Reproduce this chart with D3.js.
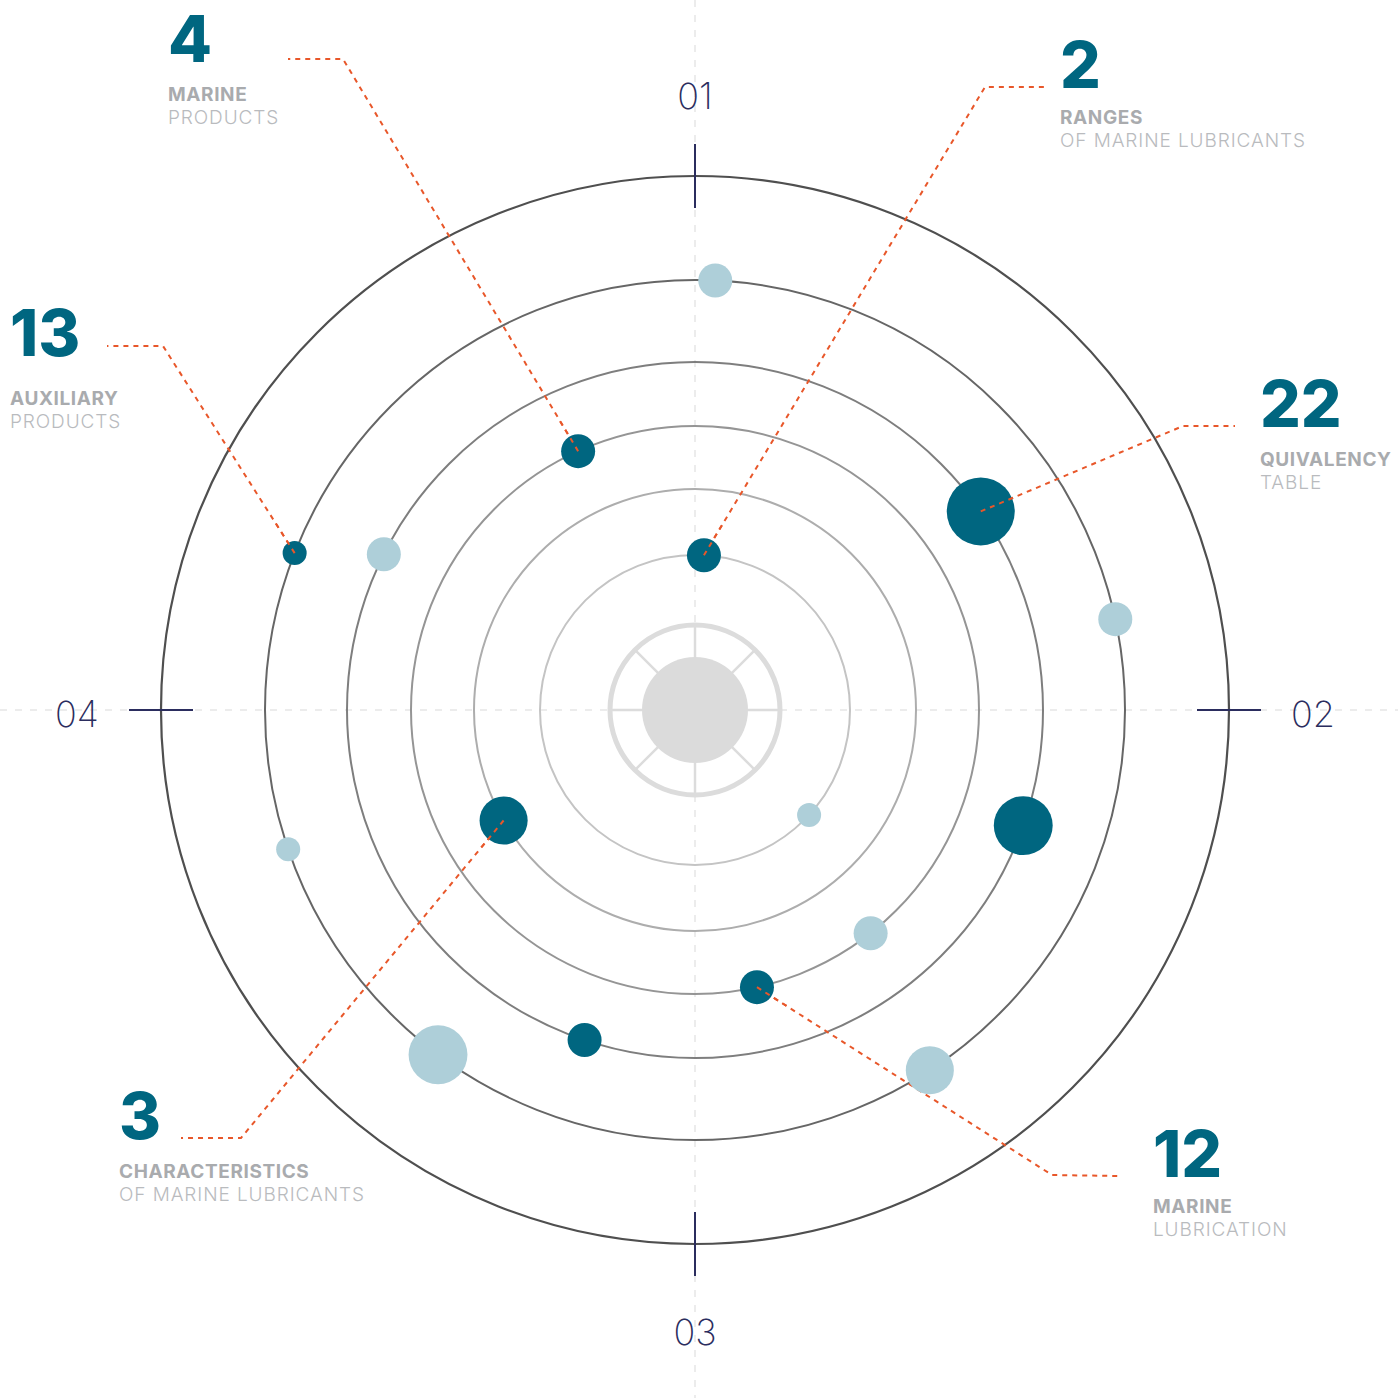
<!DOCTYPE html>
<html>
<head>
  <meta charset="utf-8">
  <title>Marine radar</title>
<script src="https://d3js.org/d3.v7.min.js"></script>
  <style>
    body { margin: 0; background: #fff; }
    .num { font-family: Inter, "Open Sans", sans-serif; font-weight: 800; fill: #006680; }
    .title { font-family: Inter, sans-serif; font-weight: 700; fill: #a9abae; letter-spacing: 0.6px; }
    .sub { font-family: Inter, sans-serif; font-weight: 300; fill: #b9bbbe; letter-spacing: 0.9px; }
    .axis-label { font-family: Inter, sans-serif; font-weight: 200; fill: #2b2d5e; }
  </style>
</head>
<body>
  <script>
    // ring levels (1 = innermost ring)
    const ringLevels = [1, 2, 3, 4, 5, 6];
    const axisLabels = ["01", "02", "03", "04"];

    // dots: ring level, angle (degrees clockwise from north), size, kind
    const dotRing  = [5, 3, 1, 4, 5, 5, 4, 2, 5, 1, 4, 3, 3, 4, 5, 5];
    const dotAngle = [2.7, 335.7, 3.3, 55.2, 77.8, 291.4, 296.6, 240, 251.1, 132.6, 109.4, 141.8, 167.4, 198.5, 216.7, 146.9];
    const dotSize  = [2, 2, 2, 8, 2, 1, 2, 4, 1, 1, 6, 2, 2, 2, 6, 4];
    const dotKind  = ["light", "dark", "dark", "dark", "light", "dark", "light", "dark", "light", "light", "dark", "light", "dark", "dark", "light", "light"];

    // callouts
    const calloutNumber = ["4", "2", "13", "22", "3", "12"];
    const calloutTitle  = ["MARINE", "RANGES", "AUXILIARY", "QUIVALENCY", "CHARACTERISTICS", "MARINE"];
    const calloutSub    = ["PRODUCTS", "OF MARINE LUBRICANTS", "PRODUCTS", "TABLE", "OF MARINE LUBRICANTS", "LUBRICATION"];
    const calloutDot    = [1, 2, 5, 3, 7, 12];

    // layout for callouts: elbow, line end, text anchor, title offset
    const calloutLayout = [
      { elbow: [343, 59],   end: [288, 59],   tx: 168,  ty: 62,   gap: 39 },
      { elbow: [985, 87],   end: [1048, 87],  tx: 1060, ty: 88,   gap: 36 },
      { elbow: [163, 346],  end: [107, 346],  tx: 10,   ty: 356,  gap: 49 },
      { elbow: [1183, 426], end: [1235, 426], tx: 1260, ty: 427,  gap: 39 },
      { elbow: [241, 1138], end: [181, 1138], tx: 119,  ty: 1139, gap: 39 },
      { elbow: [1052, 1175],end: [1118, 1176],tx: 1153, ty: 1177, gap: 36 }
    ];

    const W = 1398, H = 1398;
    const cx = 695, cy = 710;

    const svg = d3.select("body").append("svg")
        .attr("width", W)
        .attr("height", H);

    const radius = d3.scaleLinear()
        .domain(ringLevels)
        .range([155, 221, 284, 348, 430, 534]);
    const angle = d3.scaleLinear().domain([0, 360]).range([0, 2 * Math.PI]);
    const size = d3.scaleSqrt().domain([0, 8]).range([0, 34]);
    const ringColor = d3.scaleLinear().domain([1, 6]).range(["#c4c4c4", "#4f4f4f"]);
    const dotColor = d3.scaleOrdinal().domain(["dark", "light"]).range(["#006680", "#aecfd9"]);

    function pos(level, deg) {
      const r = radius(level), a = angle(deg);
      return [cx + r * Math.sin(a), cy - r * Math.cos(a)];
    }

    // dashed guide axes
    svg.append("line")
        .attr("x1", 0).attr("x2", W).attr("y1", cy).attr("y2", cy)
        .attr("stroke", "#ececec").attr("stroke-width", 2).attr("stroke-dasharray", "7 8");
    svg.append("line")
        .attr("x1", cx).attr("x2", cx).attr("y1", 0).attr("y2", H)
        .attr("stroke", "#ececec").attr("stroke-width", 2).attr("stroke-dasharray", "7 8");

    const g = svg.append("g").attr("transform", "translate(" + cx + "," + cy + ")");

    // center hub
    g.append("circle").attr("r", 85).attr("fill", "#fff")
        .attr("stroke", "#dcdcdc").attr("stroke-width", 5);
    d3.range(8).forEach(i => {
      const a = i * Math.PI / 4;
      g.append("line")
          .attr("x1", 52 * Math.sin(a)).attr("y1", -52 * Math.cos(a))
          .attr("x2", 85 * Math.sin(a)).attr("y2", -85 * Math.cos(a))
          .attr("stroke", "#dcdcdc").attr("stroke-width", 2.5);
    });
    g.append("circle").attr("r", 53).attr("fill", "#dbdbdb");

    // rings
    g.selectAll(".ring")
        .data(ringLevels)
        .enter().append("circle")
        .attr("class", "ring")
        .attr("r", d => radius(d))
        .attr("fill", "none")
        .attr("stroke", d => ringColor(d))
        .attr("stroke-width", d => d === 6 ? 2.2 : 2);

    // axis ticks and labels
    const rOut = radius(6);
    const tickLen = 32;
    axisLabels.forEach((lab, i) => {
      const a = i * Math.PI / 2;
      const sx = Math.sin(a), sy = -Math.cos(a);
      g.append("line")
          .attr("x1", sx * (rOut - tickLen)).attr("y1", sy * (rOut - tickLen))
          .attr("x2", sx * (rOut + tickLen)).attr("y2", sy * (rOut + tickLen))
          .attr("stroke", "#2b2d5e").attr("stroke-width", 2);
      const lr = rOut + 84;
      g.append("text")
          .attr("class", "axis-label")
          .attr("x", sx * lr)
          .attr("y", sy * lr)
          .attr("dy", "0.46em")
          .attr("text-anchor", "middle")
          .style("font-size", "36px")
          .text(lab);
    });

    // dots
    const dots = dotRing.map((r, i) => ({
      p: pos(r, dotAngle[i]), size: dotSize[i], kind: dotKind[i]
    }));

    // callout lines (under the dots)
    calloutNumber.forEach((n, i) => {
      const L = calloutLayout[i];
      const d = dots[calloutDot[i]].p;
      svg.append("path")
          .attr("d", d3.line()([d, L.elbow, L.end]))
          .attr("fill", "none")
          .attr("stroke", "#e8572a")
          .attr("stroke-width", 2)
          .attr("stroke-dasharray", "5 5");
    });

    svg.selectAll(".dot")
        .data(dots)
        .enter().append("circle")
        .attr("class", "dot")
        .attr("cx", d => d.p[0])
        .attr("cy", d => d.p[1])
        .attr("r", d => size(d.size))
        .attr("fill", d => dotColor(d.kind));

    // redraw line tails over the dots so they stay visible
    calloutNumber.forEach((n, i) => {
      const L = calloutLayout[i];
      const d = dots[calloutDot[i]].p;
      const dx = L.elbow[0] - d[0], dy = L.elbow[1] - d[1];
      const len = Math.hypot(dx, dy);
      const k = 40 / len;
      svg.append("line")
          .attr("x1", d[0]).attr("y1", d[1])
          .attr("x2", d[0] + dx * k).attr("y2", d[1] + dy * k)
          .attr("stroke", "#e8572a")
          .attr("stroke-width", 2)
          .attr("stroke-dasharray", "5 5");
    });

    // callout texts
    calloutNumber.forEach((n, i) => {
      const L = calloutLayout[i];
      const t = svg.append("g").attr("transform", "translate(" + L.tx + "," + L.ty + ")");
      t.append("text").attr("class", "num").style("font-size", "64px").text(n);
      t.append("text").attr("class", "title").attr("y", L.gap).style("font-size", "19px").text(calloutTitle[i]);
      t.append("text").attr("class", "sub").attr("y", L.gap + 23).style("font-size", "19px").text(calloutSub[i]);
    });
  </script>
</body>
</html>
